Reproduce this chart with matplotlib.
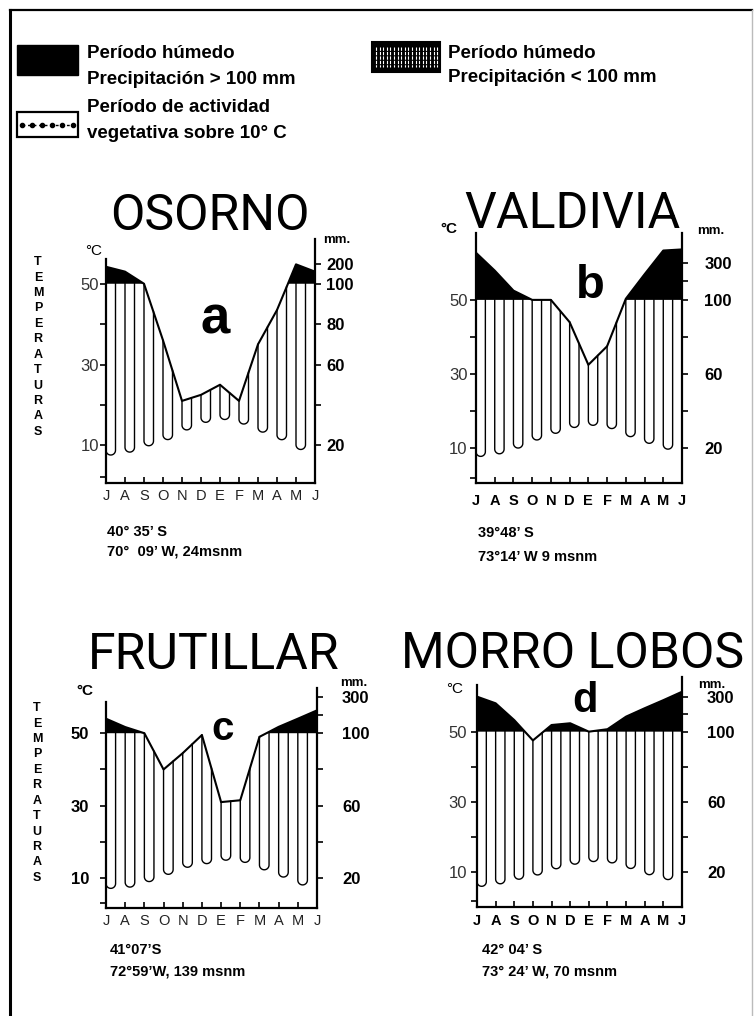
import matplotlib
matplotlib.use("Agg")
import matplotlib.pyplot as plt
import numpy as np
from matplotlib.lines import Line2D
from matplotlib.patches import Rectangle

W, H = 756, 1016

# meses de julio a junio
meses = ["J", "A", "S", "O", "N", "D", "E", "F", "M", "A", "M", "J"]

# temperatura media mensual (°C) y precipitación (mm)
temp_osorno = [7.5, 7.9, 9.6, 10.8, 13.3, 15.4, 16.6, 15.8, 13.7, 12.0, 9.6, 7.1]
prec_osorno = [184, 160, 100, 72, 42, 45, 50, 42, 70, 87, 196, 160]

temp_valdivia = [7.7, 8.2, 9.5, 11.8, 13.6, 15.4, 16.3, 15.9, 13.6, 11.8, 10.0, 9.1]
prec_valdivia = [354, 258, 150, 100, 100, 88, 65, 75, 106, 238, 366, 372]

temp_frutillar = [7.2, 7.2, 8.6, 10.5, 12.8, 13.7, 15.0, 14.9, 12.8, 10.9, 8.6, 6.8]
prec_frutillar = [180, 134, 100, 80, 89, 99, 62, 63, 98, 135, 180, 226]

temp_morro = [5.7, 6.2, 7.6, 8.6, 10.5, 11.9, 12.9, 12.9, 11.4, 9.5, 8.1, 6.7]
prec_morro = [300, 262, 166, 95, 138, 148, 100, 114, 186, 234, 280, 328]

# escala de precipitación (mm)
marcas_mm_a = [20, 40, 60, 80, 100, 200]
rotulos_mm_a = [20, 60, 80, 100, 200]
marcas_mm = [20, 40, 60, 80, 100, 200, 300]
rotulos_mm = [20, 60, 100, 300]

ubicacion_osorno = ["40\u00b0 35\u2019 S", "70\u00b0  09\u2019 W, 24msnm"]
ubicacion_valdivia = ["39\u00b048\u2019 S", "73\u00b014\u2019 W 9 msnm"]
ubicacion_frutillar = ["41\u00b007\u2019S", "72\u00b059\u2019W, 139 msnm"]
ubicacion_morro = ["42\u00b0 04\u2019 S", "73\u00b0 24\u2019 W, 70 msnm"]


def mm_a_escala(p):
    # 100 mm = 50 °C ; sobre 100 mm la escala se reduce a 1/10
    p = np.asarray(p, dtype=float)
    return np.where(p <= 100, p / 2.0, 50 + (p - 100) / 20.0)


def fx(x):
    return x / W


def fy(y):
    return 1 - y / H


FUENTE = "Liberation Sans"
plt.rcParams["font.family"] = [FUENTE, "DejaVu Sans"]

fig = plt.figure(figsize=(W / 100, H / 100), dpi=100)
fig.patch.set_facecolor("white")

paneles = [
    dict(nombre="OSORNO", letra="a", temp=temp_osorno, prec=prec_osorno,
         ubic=ubicacion_osorno, marcas=marcas_mm_a, rotulos=rotulos_mm_a,
         caja=(106, 237.3, 315, 483.3), ylim=(0.6, 61.5), tope=(56.2, 61),
         titulo_xy=(210, 230), letra_xy=(215, 333), letra_fs=38,
         gc_xy=(94, 251), gc_bold=False, mm_xy=(337, 240),
         ubic_xy=(107, 532, 552), pad_izq=1, pad_der=4, pad_mes=4,
         bold_eje=False),
    dict(nombre="VALDIVIA", letra="b", temp=temp_valdivia, prec=prec_valdivia,
         ubic=ubicacion_valdivia, marcas=marcas_mm, rotulos=rotulos_mm,
         caja=(476, 233.1, 682, 483.3), ylim=(0.57, 68), tope=(68, 68),
         titulo_xy=(572, 228), letra_xy=(590, 298), letra_fs=34,
         gc_xy=(449, 229), gc_bold=True, mm_xy=(711, 231),
         ubic_xy=(478, 533, 557), pad_izq=2, pad_der=12, pad_mes=8,
         bold_eje=False),
    dict(nombre="FRUTILLAR", letra="c", temp=temp_frutillar, prec=prec_frutillar,
         ubic=ubicacion_frutillar, marcas=marcas_mm, rotulos=rotulos_mm,
         caja=(106, 687.9, 317, 908.3), ylim=(1.7, 62.5), tope=(58.7, 62.5),
         titulo_xy=(214, 669), letra_xy=(223, 740), letra_fs=29,
         gc_xy=(85, 691), gc_bold=True, mm_xy=(354, 683),
         ubic_xy=(110, 950, 972), pad_izq=8, pad_der=14, pad_mes=4,
         bold_eje=True),
    dict(nombre="MORRO LOBOS", letra="d", temp=temp_morro, prec=prec_morro,
         ubic=ubicacion_morro, marcas=marcas_mm, rotulos=rotulos_mm,
         caja=(477, 676.7, 682, 906.7), ylim=(0, 65.7), tope=(63.3, 65.7),
         titulo_xy=(573, 668), letra_xy=(585, 712), letra_fs=30,
         gc_xy=(455, 689), gc_bold=False, mm_xy=(712, 685),
         ubic_xy=(482, 950, 972), pad_izq=3, pad_der=14, pad_mes=5,
         bold_eje=False),
]

x_mes = np.arange(12)

for p in paneles:
    x0, y0, x1, y1 = p["caja"]
    ax = fig.add_axes([fx(x0), fy(y1), (x1 - x0) / W, (y1 - y0) / H])
    ax.set_xlim(0, 11)
    ax.set_ylim(*p["ylim"])
    ax.set_facecolor("none")

    t = np.asarray(p["temp"], dtype=float)
    pe = mm_a_escala(p["prec"])

    # período húmedo sobre 100 mm, relleno negro
    xf = np.linspace(0, 11, 600)
    pf = np.interp(xf, x_mes, pe)
    ax.fill_between(xf, 50, pf, where=pf > 50, color="black", lw=0, interpolate=True)
    ax.plot(x_mes, pe, color="black", lw=1.5, solid_joinstyle="round")

    # rayado vertical en meandro entre precipitación y temperatura
    px_mes = (x1 - x0) / 11
    px_grado = (y1 - y0) / (p["ylim"][1] - p["ylim"][0])
    xs = np.linspace(0, 11, 23)
    arriba = np.minimum(np.interp(xs, x_mes, pe), 50)
    abajo = np.interp(xs, x_mes, t)
    rx = (xs[1] - xs[0]) / 2
    ry = rx * px_mes / px_grado
    th = np.linspace(np.pi, 2 * np.pi, 20)
    for i in range(0, len(xs) - 1, 2):
        xm = (xs[i] + xs[i + 1]) / 2
        yc = (abajo[i] + abajo[i + 1]) / 2 + ry
        xx = np.concatenate([[xs[i], xs[i]], xm + rx * np.cos(th), [xs[i + 1], xs[i + 1]]])
        yy = np.concatenate([[arriba[i], yc], yc + ry * np.sin(th), [yc, arriba[i + 1]]])
        ax.plot(xx, yy, color="black", lw=1.0, solid_joinstyle="round")
    if len(xs) % 2 == 1:
        ax.plot([xs[-1], xs[-1]], [arriba[-1], abajo[-1]], color="black", lw=1.0)

    # ejes
    ylo = p["ylim"][0]
    for s in ("top", "right"):
        ax.spines[s].set_visible(False)
    ax.spines["left"].set_bounds(ylo, p["tope"][0])
    ax.spines["left"].set_linewidth(1.6)
    ax.spines["bottom"].set_linewidth(1.6)
    ax.set_xticks(x_mes)
    peso = "bold" if p["letra"] in ("b", "d") else "normal"
    col_mes = "black" if peso == "bold" else "#222222"
    ax.set_xticklabels(meses, fontsize=10.5, fontweight=peso, color=col_mes)
    ax.tick_params(axis="x", direction="in", length=4, width=1.2, pad=p["pad_mes"])
    yt = [ylo + 1.5, 10, 20, 30, 40, 50]
    ax.set_yticks(yt)
    ax.set_yticklabels(["", "10", "", "30", "", "50"], fontsize=12,
                       fontweight="bold" if p["bold_eje"] else "normal",
                       color="black" if p["bold_eje"] else "#333333")
    ax.tick_params(axis="y", direction="out", length=4, width=1.2, pad=p["pad_izq"])

    ax2 = ax.twinx()
    ax2.set_ylim(*p["ylim"])
    for s in ("top", "left", "bottom"):
        ax2.spines[s].set_visible(False)
    ax2.spines["right"].set_bounds(ylo, p["tope"][1])
    ax2.spines["right"].set_linewidth(1.6)
    ax2.set_yticks(mm_a_escala(p["marcas"]))
    ax2.set_yticklabels([str(v) if v in p["rotulos"] else "" for v in p["marcas"]],
                        fontsize=12, fontweight="bold")
    ax2.tick_params(axis="y", direction="out", length=4, width=1.2, pad=p["pad_der"])

    # textos del panel
    tx, ty = p["titulo_xy"]
    fig.text(fx(tx), fy(ty), p["nombre"], ha="center", va="baseline",
             fontsize=36, family=["Roboto", "DejaVu Sans"])
    lx, ly = p["letra_xy"]
    fig.text(fx(lx), fy(ly), p["letra"], ha="center", va="baseline",
             fontsize=p["letra_fs"], fontweight="bold")
    gx, gy = p["gc_xy"]
    fig.text(fx(gx), fy(gy), "\u00b0C", ha="center", va="center", fontsize=11,
             fontweight="bold" if p["gc_bold"] else "normal")
    mx, my = p["mm_xy"]
    fig.text(fx(mx), fy(my), "mm.", ha="center", va="center", fontsize=9.5,
             fontweight="bold")
    ux, uy1, uy2 = p["ubic_xy"]
    fig.text(fx(ux), fy(uy1), p["ubic"][0], ha="left", va="center",
             fontsize=10.5, fontweight="bold")
    fig.text(fx(ux), fy(uy2), p["ubic"][1], ha="left", va="center",
             fontsize=10.5, fontweight="bold")

# rótulo vertical de temperaturas
for (x, y) in [(38, 347), (37, 793)]:
    fig.text(fx(x), fy(y), "\n".join("TEMPERATURAS"), ha="center", va="center",
             fontsize=9, fontweight="bold", linespacing=1.38)

# leyenda
fig.patches.append(Rectangle((fx(17), fy(75)), 61 / W, 30 / H, transform=fig.transFigure,
                             facecolor="black", edgecolor="black"))
fig.text(fx(87), fy(53), "Per\u00edodo h\u00famedo", ha="left", va="center",
         fontsize=13.5, fontweight="bold")
fig.text(fx(87), fy(79), "Precipitaci\u00f3n > 100 mm", ha="left", va="center",
         fontsize=13.5, fontweight="bold")

fig.patches.append(Rectangle((fx(372), fy(72)), 68 / W, 30 / H, transform=fig.transFigure,
                             facecolor="black", edgecolor="black", lw=1.5))
for xl in np.arange(376, 438, 3.6):
    fig.lines.append(Line2D([fx(xl), fx(xl)], [fy(47), fy(67)], transform=fig.transFigure,
                            color="white", lw=0.8, linestyle=(0, (3, 1))))
fig.text(fx(448), fy(53), "Per\u00edodo h\u00famedo", ha="left", va="center",
         fontsize=13.5, fontweight="bold")
fig.text(fx(448), fy(78), "Precipitaci\u00f3n < 100 mm", ha="left", va="center",
         fontsize=13.5, fontweight="bold")

fig.patches.append(Rectangle((fx(17), fy(137)), 61 / W, 25 / H, transform=fig.transFigure,
                             facecolor="white", edgecolor="black", lw=1.6))
fig.lines.append(Line2D([fx(x) for x in (22, 32, 42, 52, 62, 73)], [fy(125)] * 6,
                        transform=fig.transFigure, color="black", lw=1.0,
                        linestyle=(0, (2, 2)), marker="o", markersize=3))
fig.text(fx(87), fy(108), "Per\u00edodo de actividad", ha="left", va="center",
         fontsize=13.5, fontweight="bold")
fig.text(fx(87), fy(133), "vegetativa sobre 10\u00b0 C", ha="left", va="center",
         fontsize=13.5, fontweight="bold")

# marco
fig.lines.append(Line2D([fx(10), fx(10)], [fy(10), fy(H)], transform=fig.transFigure,
                        color="black", lw=2.2))
fig.lines.append(Line2D([fx(10), fx(752)], [fy(10), fy(10)], transform=fig.transFigure,
                        color="black", lw=1.6))
fig.lines.append(Line2D([fx(752), fx(752)], [fy(10), fy(H)], transform=fig.transFigure,
                        color="#bbbbbb", lw=1.0))

fig.savefig("out.png", dpi=100)
